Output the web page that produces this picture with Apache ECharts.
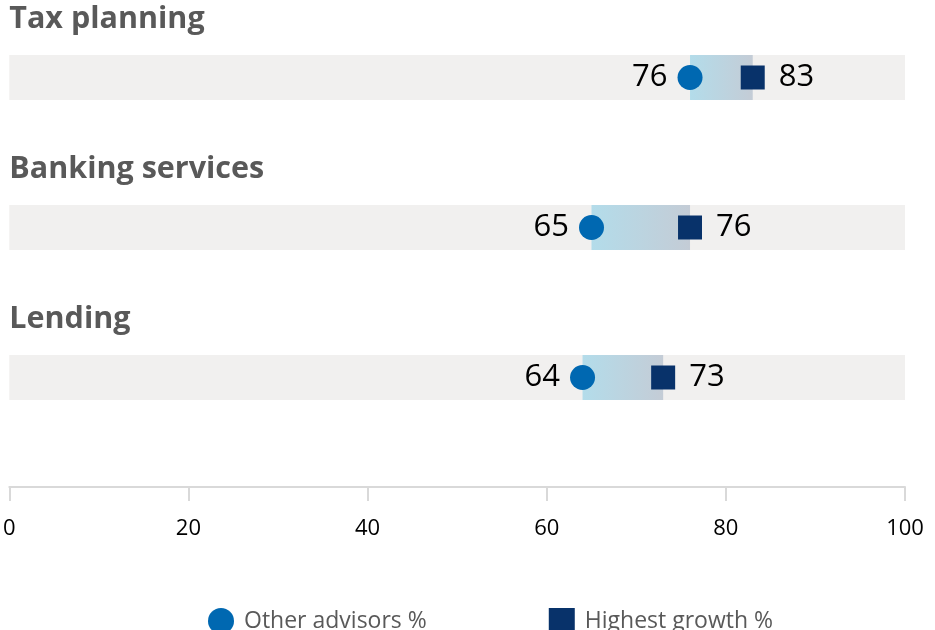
<!DOCTYPE html>
<html>
<head>
<meta charset="utf-8">
<script src="https://cdn.jsdelivr.net/npm/echarts@6/dist/echarts.min.js"></script>
<style>
  html, body { margin: 0; padding: 0; background: #ffffff; }
  #chart { width: 935px; height: 630px; }
</style>
</head>
<body>
<div id="chart"></div>
<script>
// Service categories, top to bottom
const categories = ['Tax planning', 'Banking services', 'Lending'];
// Share of advisors (%)
const otherAdvisors = [76, 65, 64];
const highestGrowth = [83, 76, 73];
// Horizontal axis scale
const axisMin = 0;
const axisMax = 100;
const axisStep = 20;

const FONT = '"Open Sans", "Noto Sans", sans-serif';
const GREY_TEXT = '#595959';
const CIRCLE_COLOR = '#0068b1';
const SQUARE_COLOR = '#08326a';

const rowData = categories.map((name, i) => [i, otherAdvisors[i], highestGrowth[i], name]);

const chart = echarts.init(document.getElementById('chart'), null, { renderer: 'canvas' });

chart.setOption({
  animation: false,
  backgroundColor: '#ffffff',
  grid: { left: 9, right: 30, top: 2.5, bottom: 143, containLabel: false },
  xAxis: {
    type: 'value',
    min: axisMin,
    max: axisMax,
    interval: axisStep,
    axisLine: { show: true, onZero: false, lineStyle: { color: '#d9d9d9', width: 2 } },
    axisTick: { show: true, length: 14, lineStyle: { color: '#d9d9d9', width: 2 } },
    splitLine: { show: false },
    axisLabel: { color: '#000000', fontFamily: FONT, fontSize: 22, margin: 31 }
  },
  yAxis: {
    type: 'value',
    inverse: true,
    min: -0.5,
    max: 2.73,
    show: false
  },
  legend: {
    left: 203,
    top: 603,
    itemWidth: 26,
    itemHeight: 26,
    itemGap: 122,
    textStyle: { color: GREY_TEXT, fontFamily: FONT, fontSize: 23, padding: [0, 0, 0, 5] },
    data: [
      { name: 'Other advisors %', icon: 'circle' },
      { name: 'Highest growth %', icon: 'rect' }
    ]
  },
  series: [
    {
      type: 'custom',
      name: 'rows',
      silent: true,
      z: 1,
      encode: { x: [1, 2], y: 0 },
      data: rowData,
      renderItem: function (params, api) {
        const i = api.value(0);
        const lo = api.value(1);
        const hi = api.value(2);
        const name = categories[i];
        const left = api.coord([axisMin, i]);
        const right = api.coord([axisMax, i]);
        const a = api.coord([lo, i]);
        const b = api.coord([hi, i]);
        const unit = api.size([0, 1])[1];
        const bandH = unit * 0.3;
        return {
          type: 'group',
          children: [
            {
              type: 'rect',
              shape: { x: left[0], y: left[1] - bandH / 2, width: right[0] - left[0], height: bandH },
              style: { fill: '#f1f0ef' }
            },
            {
              type: 'rect',
              shape: { x: a[0], y: a[1] - bandH / 2, width: b[0] - a[0], height: bandH },
              style: {
                fill: new echarts.graphic.LinearGradient(0, 0, 1, 0, [
                  { offset: 0, color: '#b3dcea' },
                  { offset: 1, color: '#c4ccd6' }
                ])
              }
            },
            {
              type: 'text',
              x: left[0],
              y: left[1] - unit * 0.385,
              style: {
                text: name,
                fill: GREY_TEXT,
                font: 'bold 30.5px ' + FONT,
                textAlign: 'left',
                textVerticalAlign: 'middle'
              }
            }
          ]
        };
      }
    },
    {
      type: 'scatter',
      name: 'Other advisors %',
      symbol: 'circle',
      symbolSize: 25,
      z: 3,
      itemStyle: { color: CIRCLE_COLOR, opacity: 1 },
      label: {
        show: true,
        position: 'left',
        distance: 10,
        color: '#000000',
        fontFamily: FONT,
        fontSize: 31,
        formatter: p => p.value[0]
      },
      data: otherAdvisors.map((v, i) => [v, i])
    },
    {
      type: 'scatter',
      name: 'Highest growth %',
      symbol: 'rect',
      symbolSize: 24,
      z: 3,
      itemStyle: { color: SQUARE_COLOR, opacity: 1 },
      label: {
        show: true,
        position: 'right',
        distance: 14,
        color: '#000000',
        fontFamily: FONT,
        fontSize: 31,
        formatter: p => p.value[0]
      },
      data: highestGrowth.map((v, i) => [v, i])
    }
  ]
});
</script>
</body>
</html>
